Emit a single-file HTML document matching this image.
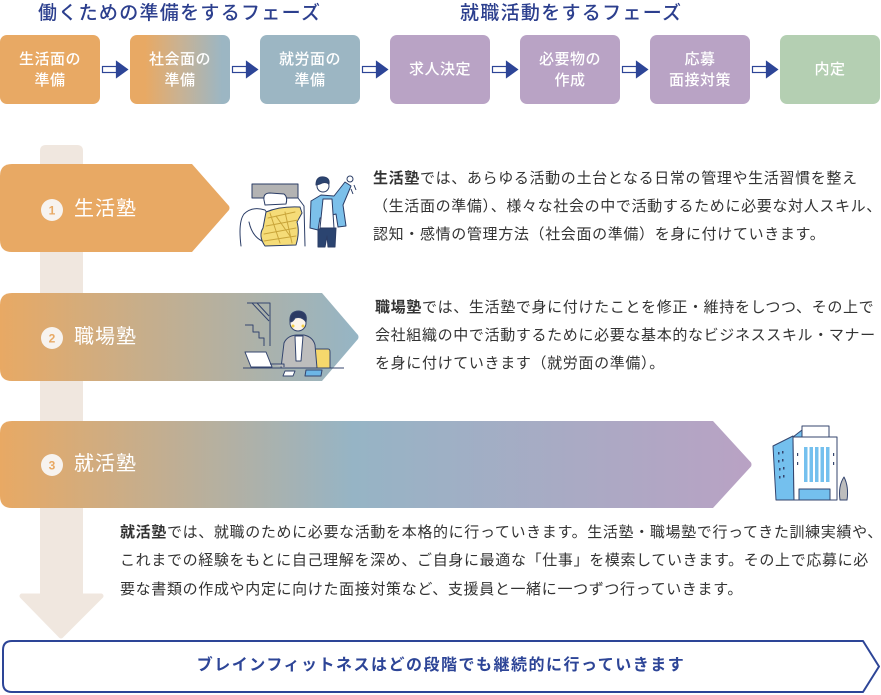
<!DOCTYPE html>
<html><head><meta charset="utf-8">
<style>
html,body{margin:0;padding:0;}
body{width:881px;height:695px;position:relative;overflow:hidden;background:#fff;font-family:"Liberation Sans","Noto Sans CJK JP",sans-serif;}
svg{position:absolute;left:0;top:0;}
.a{position:absolute;white-space:nowrap;}
.h{font-size:19px;line-height:24px;letter-spacing:1.3px;color:#2c3f8e;top:2px;font-weight:500;}
.box{position:absolute;top:35px;width:100px;height:69px;border-radius:7px;color:#fff;font-size:15px;line-height:21px;letter-spacing:.5px;display:flex;align-items:center;justify-content:center;text-align:center;font-weight:500;}
.d{position:absolute;white-space:nowrap;font-size:15px;line-height:28px;letter-spacing:.65px;color:#333;}
.d b{font-weight:bold;}
.lbl{position:absolute;left:74px;font-size:20px;line-height:28px;color:#fff;letter-spacing:1px;white-space:nowrap;}
.bt{position:absolute;left:2px;width:878px;top:653px;text-align:center;font-size:16px;line-height:26px;letter-spacing:1.5px;color:#2d4597;font-weight:bold;white-space:nowrap;}
</style></head><body>

<svg width="881" height="695" viewBox="0 0 881 695" xmlns="http://www.w3.org/2000/svg">
<defs>
 <linearGradient id="g2" x1="0" y1="0" x2="1" y2="0">
  <stop offset="0" stop-color="#e8a964"/><stop offset="1" stop-color="#95b5c5"/>
 </linearGradient>
 <linearGradient id="g3" x1="0" y1="0" x2="1" y2="0">
  <stop offset="0" stop-color="#e8a964"/><stop offset="0.47" stop-color="#96b4c5"/><stop offset="1" stop-color="#b9a2c4"/>
 </linearGradient>
</defs>

<!-- top arrows -->
<g stroke="#2d4597" stroke-width="1.2">
 <rect x="102.5" y="66.5" width="14" height="6" fill="#fff"/><polygon points="116.5,61.5 127.5,69.5 116.5,77.5" fill="#2d4597"/>
 <rect x="232.5" y="66.5" width="14" height="6" fill="#fff"/><polygon points="246.5,61.5 257.5,69.5 246.5,77.5" fill="#2d4597"/>
 <rect x="362.5" y="66.5" width="14" height="6" fill="#fff"/><polygon points="376.5,61.5 387.5,69.5 376.5,77.5" fill="#2d4597"/>
 <rect x="492.5" y="66.5" width="14" height="6" fill="#fff"/><polygon points="506.5,61.5 517.5,69.5 506.5,77.5" fill="#2d4597"/>
 <rect x="622.5" y="66.5" width="14" height="6" fill="#fff"/><polygon points="636.5,61.5 647.5,69.5 636.5,77.5" fill="#2d4597"/>
 <rect x="752.5" y="66.5" width="14" height="6" fill="#fff"/><polygon points="766.5,61.5 777.5,69.5 766.5,77.5" fill="#2d4597"/>
</g>

<!-- vertical bar + arrow -->
<path d="M40,151 Q40,145 46,145 L77,145 Q83,145 83,151 L83,596 L40,596 Z" fill="#f0e7df"/>
<polygon points="22,596 101,596 61,636" fill="#f0e7df" stroke="#f0e7df" stroke-width="5" stroke-linejoin="round"/>

<!-- banners -->
<path d="M12,164 H192 L229,206 Q230,208 229,210 L192,252 H12 Q0,252 0,240 V176 Q0,164 12,164 Z" fill="#e8a964"/>
<path d="M12,293 H322 L358,335 Q359,337 358,339 L322,381 H12 Q0,381 0,369 V305 Q0,293 12,293 Z" fill="url(#g2)"/>
<path d="M12,421 H713 L751,462.5 Q752,464.5 751,466.5 L713,508 H12 Q0,508 0,496 V433 Q0,421 12,421 Z" fill="url(#g3)"/>

<!-- number circles -->
<circle cx="52" cy="210" r="11" fill="#f7f3ef"/>
<text x="52" y="214.5" text-anchor="middle" font-size="12" font-weight="bold" fill="#e8a964" font-family="Liberation Sans, sans-serif">1</text>
<circle cx="52" cy="338" r="11" fill="#f7f3ef"/>
<text x="52" y="342.5" text-anchor="middle" font-size="12" font-weight="bold" fill="#e8a964" font-family="Liberation Sans, sans-serif">2</text>
<circle cx="52" cy="465" r="11" fill="#f7f3ef"/>
<text x="52" y="469.5" text-anchor="middle" font-size="12" font-weight="bold" fill="#e8a964" font-family="Liberation Sans, sans-serif">3</text>

<!-- bottom box -->
<path d="M12,641 H863 L879,666.5 L863,692 H12 Q3,692 3,683 V650 Q3,641 12,641 Z" fill="#fff" stroke="#2d4597" stroke-width="2" stroke-linejoin="round"/>

<!-- illustration 1 : bed + man -->
<g stroke="#2b3d66" stroke-width="1" fill="none" stroke-linecap="round" stroke-linejoin="round">
 <rect x="252" y="184" width="46" height="14" fill="#b3b3b3"/>
 <path d="M298,198 L304,206 L305,246"/>
 <path d="M264,200 Q263,193 270,193 L284,194 Q288,197 286,204 L265,205Z" fill="#fff"/>
 <path d="M241,246 Q238,222 244,214 Q252,206 265,210 L268,214" fill="#fff"/>
 <path d="M249,222 Q252,236 262,241"/>
 <path d="M266,212 Q280,206 300,207 L302,213 L297,222 Q300,232 296,245 L265,246 Q258,236 263,228 Z" fill="#f5dc78"/>
 <path d="M268,218 L295,212 M266,226 L298,220 M264,234 L296,228 M264,241 L296,236 M270,213 L280,243 M285,212 L292,243 M276,216 L290,236" stroke="#c9a53a"/>
</g>
<g stroke="#2b3d66" stroke-width="1" stroke-linejoin="round">
 <path d="M318,229 L336,228 L335,247 L328,247 L327,236 L325,247 L318,247 Z" fill="#2b4470"/>
 <path d="M311,201 L321,195 L334,196 L345,182 L351,186 L343,205 L346,226 L338,227 L336,214 L320,218 L318,230 L310,228 Z" fill="#7cc0ea"/>
 <path d="M323,199 L332,199 L334,228 L320,228 Z" fill="#fff"/>
 <circle cx="323" cy="186" r="6" fill="#fff"/>
 <path d="M316,185 Q316,176 324,177 Q330,178 329,184 Q325,181 320,184 Z" fill="#2b4470"/>
 <circle cx="350" cy="179" r="3" fill="#fff"/>
 <path d="M354,185 L356,190 M351,189 L353,194" fill="none"/>
</g>

<!-- illustration 2 : desk worker -->
<g stroke="#34456e" stroke-width="1" fill="none" stroke-linejoin="round">
 <path d="M247,303 L270,303 L270,346"/>
 <path d="M252,303 L269,321 M257,303 L269,316"/>
 <path d="M245,325 L253,325 L253,332 L259,332 L259,338 L264,338 L264,346"/>
 <path d="M243,368 L344,368"/>
 <path d="M313,352 Q313,349 316,349 L328,349 Q330,349 330,352 L330,368 L313,368Z" fill="#f6d86c"/>
 <path d="M281,368 L284,343 Q287,336 296,335 L304,335 Q313,337 315,345 L317,368 Z" fill="#bdbdbd"/>
 <path d="M295,336 L303,336 L301,361 L296,361Z" fill="#fff"/>
 <circle cx="298" cy="323" r="8" fill="#fbf4ea"/>
 <path d="M290,322 Q289,311 299,311 Q308,312 306,322 Q302,316 295,318 Q293,322 290,322Z" fill="#2b3a63"/>
 <path d="M245,352 L266,352 L272,367 L251,367Z" fill="#fff"/>
 <path d="M270,364 L284,364 L284,367" fill="#bdbdbd"/>
 <polygon points="285,371 295,371 293,376 283,376" fill="#fff"/>
 <polygon points="306,370 322,370 321,376 305,376" fill="#6cb6e6"/>
</g>
<circle cx="293" cy="326" r="1.5" fill="#f4cf48"/>
<circle cx="303" cy="326" r="1.5" fill="#f4cf48"/>

<!-- illustration 3 : building -->
<g stroke="#34456e" stroke-width="1" stroke-linejoin="round">
 <rect x="802" y="426" width="27" height="11" fill="#fff"/>
 <polygon points="773,446 793,436 794,500 776,500" fill="#74c0ee"/>
 <polygon points="793,437 802,430 802,437" fill="#74c0ee"/>
 <polygon points="793,437 837,437 837,500 794,500" fill="#fff"/>
 <rect x="799" y="489" width="31" height="11" fill="#74c0ee"/>
 <path d="M840,500 Q838,486 844,477 Q849,487 847,500 Z" fill="#bdbdbd"/>
</g>
<g fill="#74c0ee">
 <rect x="804" y="447" width="3.5" height="35"/><rect x="809.5" y="447" width="3.5" height="35"/>
 <rect x="815" y="447" width="3.5" height="35"/><rect x="820.5" y="447" width="3.5" height="35"/>
 <rect x="826" y="447" width="3.5" height="35"/>
</g>
<g fill="#34456e">
 <rect x="778" y="452" width="1.5" height="2.5"/><rect x="782" y="451" width="1.5" height="2.5"/>
 <rect x="778" y="460" width="1.5" height="2.5"/><rect x="782" y="459" width="1.5" height="2.5"/>
 <rect x="779" y="468" width="1.5" height="2.5"/><rect x="783" y="467" width="1.5" height="2.5"/>
 <rect x="779" y="476" width="1.5" height="2.5"/><rect x="783" y="475" width="1.5" height="2.5"/>
 <rect x="797" y="453" width="1.2" height="3"/><rect x="797" y="462" width="1.2" height="3"/>
 <rect x="833" y="453" width="1.2" height="3"/><rect x="833" y="462" width="1.2" height="3"/>
</g>
</svg>

<div class="a h" style="left:38px;">働くための準備をするフェーズ</div>
<div class="a h" style="left:460px;">就職活動をするフェーズ</div>

<div class="box" style="left:0;background:#e8a964;">生活面の<br>準備</div>
<div class="box" style="left:130px;background:linear-gradient(90deg,#e8a964 15%,#c9b293 50%,#9cb6c3 92%);">社会面の<br>準備</div>
<div class="box" style="left:260px;background:#9cb6c3;">就労面の<br>準備</div>
<div class="box" style="left:390px;background:#b9a3c5;">求人決定</div>
<div class="box" style="left:520px;background:#b9a3c5;">必要物の<br>作成</div>
<div class="box" style="left:650px;background:#b9a3c5;">応募<br>面接対策</div>
<div class="box" style="left:780px;background:#b4cfb2;">内定</div>

<div class="lbl" style="top:195px;">生活塾</div>
<div class="lbl" style="top:323px;">職場塾</div>
<div class="lbl" style="top:450px;">就活塾</div>

<div class="d" style="left:373px;top:165px;"><b>生活塾</b>では、あらゆる活動の土台となる日常の管理や生活習慣を整え</div>
<div class="d" style="left:373px;top:193px;">（生活面の準備）、様々な社会の中で活動するために必要な対人スキル、</div>
<div class="d" style="left:373px;top:221px;">認知・感情の管理方法（社会面の準備）を身に付けていきます。</div>

<div class="d" style="left:375px;top:294px;"><b>職場塾</b>では、生活塾で身に付けたことを修正・維持をしつつ、その上で</div>
<div class="d" style="left:375px;top:322px;">会社組織の中で活動するために必要な基本的なビジネススキル・マナー</div>
<div class="d" style="left:375px;top:350px;">を身に付けていきます（就労面の準備）。</div>

<div class="d" style="left:120px;top:519px;"><b>就活塾</b>では、就職のために必要な活動を本格的に行っていきます。生活塾・職場塾で行ってきた訓練実績や、</div>
<div class="d" style="left:120px;top:547px;">これまでの経験をもとに自己理解を深め、ご自身に最適な「仕事」を模索していきます。その上で応募に必</div>
<div class="d" style="left:120px;top:576px;">要な書類の作成や内定に向けた面接対策など、支援員と一緒に一つずつ行っていきます。</div>

<div class="bt">ブレインフィットネスはどの段階でも継続的に行っていきます</div>

</body></html>
